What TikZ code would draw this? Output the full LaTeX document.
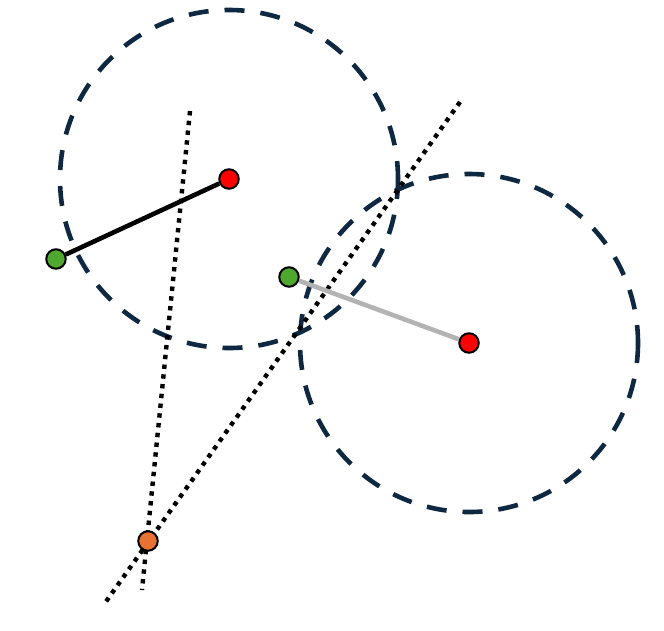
\documentclass[tikz,border=0pt]{standalone}
\definecolor{navy}{HTML}{0E2841}
\definecolor{ptgreen}{HTML}{4EA72E}
\definecolor{ptorange}{HTML}{E97132}
\definecolor{ptgray}{HTML}{B3B3B3}
\tikzset{
  ring/.style={draw=navy,line width=4.6pt,dash pattern=on 20pt off 16pt},
  dotline/.style={draw=black,line width=4.4pt,dash pattern=on 4.4pt off 5.4pt},
  pt/.style={circle,draw=black,line width=2pt,minimum size=19.5pt,inner sep=0pt},
}
\begin{document}
\begin{tikzpicture}[x=1pt,y=-1pt]
\useasboundingbox (0,0) rectangle (664,630);
\coordinate (c1) at (229,179);
\coordinate (c2) at (469,343);
\draw[ring] (c1) circle[radius=169];
\draw[ring] (c2) circle[radius=169];
\coordinate (a1) at (190,111);
\coordinate (a2) at (142,590);
\coordinate (b1) at (460,102);
\coordinate (b2) at (105,603);
\draw[dotline] (a1) -- (a2);
\draw[dotline] (b1) -- (b2);
\node[pt,fill=red] (r1) at (229,179) {};
\node[pt,fill=ptgreen] (g1) at (56,259) {};
\node[pt,fill=ptgreen] (g2) at (289,277) {};
\node[pt,fill=red] (r2) at (469,343) {};
\node[pt,fill=ptorange] (o) at (148,541) {};
\draw[line width=4.6pt,black] (g1) -- (r1);
\draw[line width=4.6pt,ptgray] (g2) -- (r2);
\end{tikzpicture}
\end{document}
